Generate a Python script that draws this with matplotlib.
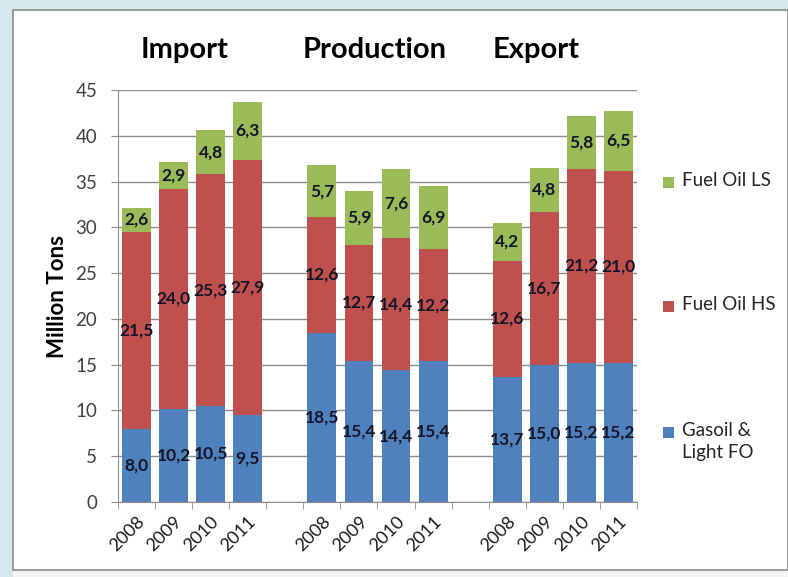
import numpy as np
import matplotlib
matplotlib.use("Agg")
import matplotlib.pyplot as plt
from matplotlib.patches import Rectangle

plt.rcParams["font.family"] = ["Lato", "DejaVu Sans"]

groups = ["Import", "Production", "Export"]
years = ["2008", "2009", "2010", "2011"]
series = ["Gasoil &\nLight FO", "Fuel Oil HS", "Fuel Oil LS"]
colors = ["#4F81BD", "#C0504D", "#9BBB59"]

gasoil = [[8.0, 10.2, 10.5, 9.5], [18.5, 15.4, 14.4, 15.4], [13.7, 15.0, 15.2, 15.2]]
fo_hs = [[21.5, 24.0, 25.3, 27.9], [12.6, 12.7, 14.4, 12.2], [12.6, 16.7, 21.2, 21.0]]
fo_ls = [[2.6, 2.9, 4.8, 6.3], [5.7, 5.9, 7.6, 6.9], [4.2, 4.8, 5.8, 6.5]]

W, H = 788, 577
fig = plt.figure(figsize=(W / 100, H / 100), dpi=100, facecolor="#d5e8ee")
# white chart panel with grey border
fig.patches.append(Rectangle((13 / W, 1 - 570 / H), (W - 13) / W, 560 / H,
                             transform=fig.transFigure, facecolor="white",
                             edgecolor="#8c8c8c", lw=1.2, zorder=-2))
fig.patches.append(Rectangle((13 / W, 0), (W - 13) / W, 1 - 570 / H - 0.002,
                             transform=fig.transFigure, facecolor="#f4f4f4",
                             edgecolor="none", zorder=-2))

ax = fig.add_axes([118 / W, 1 - 502 / H, (637 - 118) / W, (502 - 90) / H])
ax.set_facecolor("none")
ax.set_zorder(1)

# 4 bars per group, one empty slot between groups
pos, labels = [], []
for g in range(3):
    for i, y in enumerate(years):
        pos.append(g * 5 + i)
        labels.append(y)
pos = np.array(pos)

data = [np.concatenate(gasoil), np.concatenate(fo_hs), np.concatenate(fo_ls)]
bottom = np.zeros(len(pos))
for vals, col in zip(data, colors):
    ax.bar(pos, vals, bottom=bottom, width=0.78, color=col, zorder=2)
    for x, b, v in zip(pos, bottom, vals):
        ax.text(x, b + v / 2, f"{v:.1f}".replace(".", ","), ha="center", va="center",
                fontsize=12.5, fontweight="bold", color="#141428", zorder=3)
    bottom += vals

ax.set_xlim(-0.5, 13.5)
ax.set_ylim(0, 45)
ax.set_yticks(range(0, 46, 5))
ax.set_xticks(pos)
ax.set_xticklabels(labels, rotation=45, fontsize=13, color="#1a1a1a",
                   ha="right", rotation_mode="anchor")
ax.set_xticks(np.arange(-0.5, 14, 1), minor=True)
ax.tick_params(axis="x", which="major", length=0, pad=8)
ax.tick_params(axis="x", which="minor", length=5, color="#8c8c8c", direction="out")
ax.tick_params(axis="y", length=5, color="#8c8c8c", labelsize=13.5,
               labelcolor="#404040", pad=10)
ax.yaxis.grid(True, color="#8c8c8c", lw=1, zorder=1)
for s in ["top", "right"]:
    ax.spines[s].set_visible(False)
for s in ["left", "bottom"]:
    ax.spines[s].set_color("#8c8c8c")

ax.set_ylabel("Million Tons", fontsize=16, fontweight="bold")
ax.yaxis.set_label_coords(-0.097, 0.5)

# group titles
for name, xc in zip(groups, [185, 375, 536]):
    fig.text(xc / W, 1 - 50 / H, name, ha="center", va="center",
             fontsize=21, fontweight="bold")

# legend, drawn as in the original (markers aligned with first text line)
for name, col, yc in zip(series, colors, [432, 306, 182]):
    fig.patches.append(Rectangle((663 / W, 1 - (yc + 6) / H), 11 / W, 11 / H,
                                 transform=fig.transFigure, facecolor=col,
                                 edgecolor="none"))
    fig.text(682 / W, 1 - (yc - 10) / H, name, ha="left", va="top",
             fontsize=13.5, color="#262626", linespacing=1.35)

fig.savefig("out.png", dpi=100, facecolor=fig.get_facecolor())
